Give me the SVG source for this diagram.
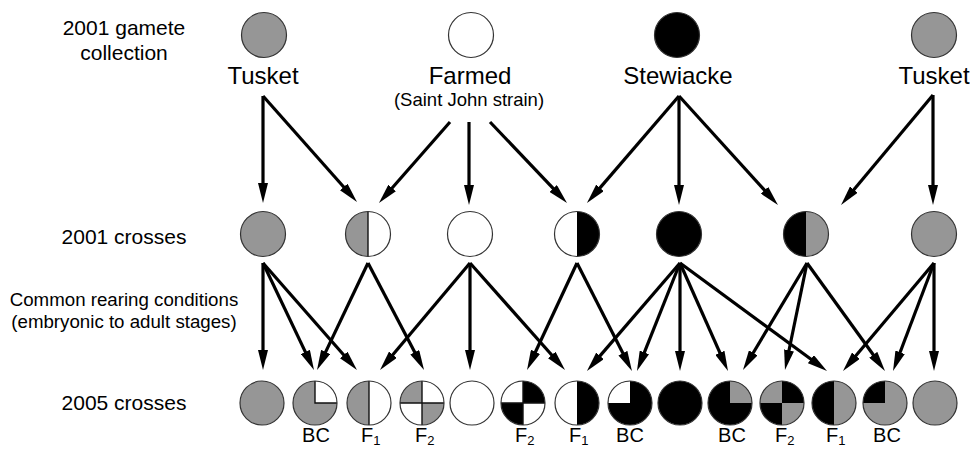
<svg xmlns="http://www.w3.org/2000/svg" xmlns:xlink="http://www.w3.org/1999/xlink" width="970" height="450" viewBox="0 0 970 450">
<style>
text{font-family:"Liberation Sans",Arial,Helvetica,sans-serif;fill:#000}
.lab{font-size:21px}
.lab2{font-size:18.7px}
.pop{font-size:24px;text-anchor:middle}
.sub{font-size:18.5px;text-anchor:middle}
.cr{font-size:20px}
.s{font-size:13px}
.g{fill:#969696}
.w{fill:#fff}
.k{fill:#000}
.ring{fill:none;stroke:#333;stroke-width:1.2}
.div{fill:none;stroke:#111;stroke-width:1.4}
.arr line{stroke:#000;stroke-width:3.2;marker-end:url(#ah)}
</style>
<defs>
<marker id="ah" viewBox="0 0 20 10" refX="4" refY="5" markerWidth="20" markerHeight="10" markerUnits="userSpaceOnUse" orient="auto"><path d="M0,0 L20,5 L0,10 z" fill="#000"/></marker>
<circle id="c" r="22"/>
<circle id="cm" r="22.5"/>
<path id="qTR" d="M0,0 V-22 A22,22 0 0 1 22,0 Z"/>
<path id="qTL" d="M0,0 H-22 A22,22 0 0 1 0,-22 Z"/>
<path id="qBR" d="M0,0 H22 A22,22 0 0 1 0,22 Z"/>
<path id="qBL" d="M0,0 V22 A22,22 0 0 1 -22,0 Z"/>
<path id="hL" d="M0,-22 A22,22 0 0 0 0,22 Z"/>
<path id="hR" d="M0,-22 A22,22 0 0 1 0,22 Z"/>
<path id="mL" d="M0,-22.5 A22.5,22.5 0 0 0 0,22.5 Z"/>
<path id="mR" d="M0,-22.5 A22.5,22.5 0 0 1 0,22.5 Z"/>
<path id="vline" d="M0,-22 V22"/>
<path id="mvline" d="M0,-22.5 V22.5"/>
<path id="cross" d="M0,-22 V22 M-22,0 H22"/>
</defs>

<g id="row-labels">
<text class="lab" x="124" y="35" text-anchor="middle">2001 gamete</text>
<text class="lab" x="124" y="60" text-anchor="middle">collection</text>
<text class="lab" x="124" y="244" text-anchor="middle">2001 crosses</text>
<text class="lab2" x="124" y="306" text-anchor="middle">Common rearing conditions</text>
<text class="lab2" x="124" y="328" text-anchor="middle">(embryonic to adult stages)</text>
<text class="lab" x="124" y="410" text-anchor="middle">2005 crosses</text>
</g>

<g id="top-tusket-left">
<use href="#cm" x="264" y="35" class="g"/><use href="#cm" x="264" y="35" class="ring"/>
<text class="pop" x="263" y="84">Tusket</text>
</g>
<g id="top-farmed">
<use href="#cm" x="471" y="35" class="w"/><use href="#cm" x="471" y="35" class="ring"/>
<text class="pop" x="470" y="84">Farmed</text>
<text class="sub" x="469" y="106">(Saint John strain)</text>
</g>
<g id="top-stewiacke">
<use href="#cm" x="677" y="35" class="k"/><use href="#cm" x="677" y="35" class="ring"/>
<text class="pop" x="678" y="84">Stewiacke</text>
</g>
<g id="top-tusket-right">
<use href="#cm" x="934" y="35" class="g"/><use href="#cm" x="934" y="35" class="ring"/>
<text class="pop" x="934" y="84">Tusket</text>
</g>

<g id="mid-1" transform="translate(263,234)"><use href="#cm" class="g"/><use href="#cm" class="ring"/></g>
<g id="mid-2" transform="translate(368,234)"><use href="#cm" class="w"/><use href="#mL" class="g"/><use href="#mvline" class="div"/><use href="#cm" class="ring"/></g>
<g id="mid-3" transform="translate(470,234)"><use href="#cm" class="w"/><use href="#cm" class="ring"/></g>
<g id="mid-4" transform="translate(577,234)"><use href="#cm" class="w"/><use href="#mR" class="k"/><use href="#cm" class="ring"/></g>
<g id="mid-5" transform="translate(679,234)"><use href="#cm" class="k"/><use href="#cm" class="ring"/></g>
<g id="mid-6" transform="translate(806,234)"><use href="#cm" class="g"/><use href="#mL" class="k"/><use href="#cm" class="ring"/></g>
<g id="mid-7" transform="translate(934,234)"><use href="#cm" class="g"/><use href="#cm" class="ring"/></g>

<g id="bot-1" transform="translate(262,403)"><use href="#c" class="g"/><use href="#c" class="ring"/></g>
<g id="bot-2" transform="translate(315,403)"><use href="#c" class="g"/><use href="#qTR" class="w"/><path d="M0,-22 V0 H22" class="div"/><use href="#c" class="ring"/></g>
<g id="bot-3" transform="translate(369,403)"><use href="#c" class="w"/><use href="#hL" class="g"/><use href="#vline" class="div"/><use href="#c" class="ring"/></g>
<g id="bot-4" transform="translate(422,403)"><use href="#c" class="w"/><use href="#qTL" class="g"/><use href="#qBR" class="g"/><use href="#cross" class="div"/><use href="#c" class="ring"/></g>
<g id="bot-5" transform="translate(472,403)"><use href="#c" class="w"/><use href="#c" class="ring"/></g>
<g id="bot-6" transform="translate(523,403)"><use href="#c" class="w"/><use href="#qTR" class="k"/><use href="#qBL" class="k"/><use href="#cross" class="div"/><use href="#c" class="ring"/></g>
<g id="bot-7" transform="translate(577,403)"><use href="#c" class="w"/><use href="#hR" class="k"/><use href="#c" class="ring"/></g>
<g id="bot-8" transform="translate(630,403)"><use href="#c" class="k"/><use href="#qTL" class="w"/><use href="#c" class="ring"/></g>
<g id="bot-9" transform="translate(680,403)"><use href="#c" class="k"/><use href="#c" class="ring"/></g>
<g id="bot-10" transform="translate(730,403)"><use href="#c" class="k"/><use href="#qTR" class="g"/><use href="#c" class="ring"/></g>
<g id="bot-11" transform="translate(782,403)"><use href="#c" class="g"/><use href="#qTR" class="k"/><use href="#qBL" class="k"/><use href="#c" class="ring"/></g>
<g id="bot-12" transform="translate(834,403)"><use href="#c" class="g"/><use href="#hL" class="k"/><use href="#c" class="ring"/></g>
<g id="bot-13" transform="translate(885,403)"><use href="#c" class="g"/><use href="#qTL" class="k"/><use href="#c" class="ring"/></g>
<g id="bot-14" transform="translate(935,403)"><use href="#c" class="g"/><use href="#c" class="ring"/></g>

<g id="cross-labels">
<text class="cr" x="316" y="442" text-anchor="middle">BC</text>
<text class="cr" x="361" y="442">F<tspan class="s" dy="3">1</tspan></text>
<text class="cr" x="415" y="442">F<tspan class="s" dy="3">2</tspan></text>
<text class="cr" x="515" y="442">F<tspan class="s" dy="3">2</tspan></text>
<text class="cr" x="569" y="442">F<tspan class="s" dy="3">1</tspan></text>
<text class="cr" x="630" y="442" text-anchor="middle">BC</text>
<text class="cr" x="732" y="442" text-anchor="middle">BC</text>
<text class="cr" x="775" y="442">F<tspan class="s" dy="3">2</tspan></text>
<text class="cr" x="826" y="442">F<tspan class="s" dy="3">1</tspan></text>
<text class="cr" x="887" y="442" text-anchor="middle">BC</text>
</g>

<g id="connectors" class="arr">
<line x1="263" y1="96" x2="263" y2="187"/>
<line x1="263" y1="96" x2="346.4" y2="190"/>
<line x1="450" y1="122" x2="389.5" y2="191"/>
<line x1="469" y1="122" x2="469" y2="189"/>
<line x1="490" y1="122" x2="556" y2="191.4"/>
<line x1="679" y1="96" x2="597.4" y2="190.9"/>
<line x1="679" y1="96" x2="679" y2="189"/>
<line x1="679" y1="96" x2="767.2" y2="193.2"/>
<line x1="933" y1="95" x2="851.3" y2="192.7"/>
<line x1="933" y1="95" x2="933" y2="189"/>

<line x1="263" y1="263" x2="263" y2="354"/>
<line x1="263" y1="263" x2="307.1" y2="355.6"/>
<line x1="263" y1="263" x2="346.4" y2="358"/>
<line x1="368" y1="263" x2="323.9" y2="355.6"/>
<line x1="368" y1="263" x2="416.6" y2="355.8"/>
<line x1="470" y1="263" x2="390.3" y2="357.8"/>
<line x1="470" y1="263" x2="470" y2="354"/>
<line x1="470" y1="263" x2="554.4" y2="358"/>
<line x1="577" y1="263" x2="533.8" y2="355.5"/>
<line x1="577" y1="263" x2="624.7" y2="356.7"/>
<line x1="680" y1="263" x2="597.4" y2="358.9"/>
<line x1="680" y1="263" x2="642.9" y2="356.1"/>
<line x1="680" y1="263" x2="680" y2="355"/>
<line x1="680" y1="263" x2="721.5" y2="356.4"/>
<line x1="680" y1="263" x2="814.1" y2="361.5"/>
<line x1="807" y1="263" x2="751.2" y2="356.3"/>
<line x1="807" y1="263" x2="788.2" y2="354.3"/>
<line x1="807" y1="263" x2="875.6" y2="358"/>
<line x1="934" y1="263" x2="853.3" y2="358.8"/>
<line x1="934" y1="263" x2="898.7" y2="356"/>
<line x1="934" y1="263" x2="934" y2="355"/>
</g>
</svg>
